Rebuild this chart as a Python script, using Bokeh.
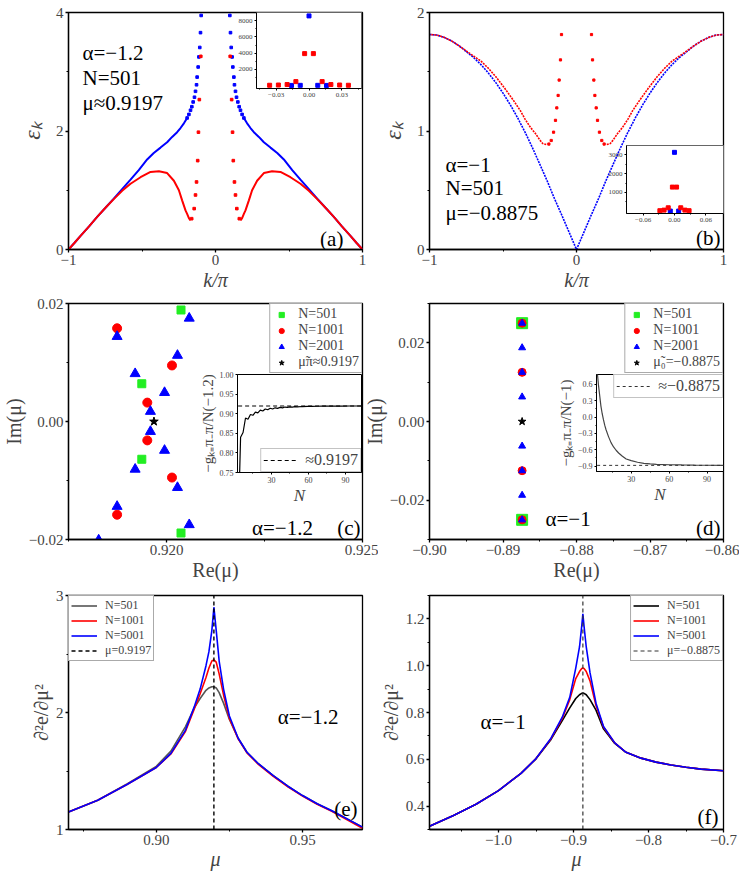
from bokeh.plotting import figure
from bokeh.models import GridBox, FixedTicker, CustomJSTickFormatter, Label, Range1d
from bokeh.core.properties import value
from bokeh.embed import file_html
from bokeh.resources import INLINE

SERIF = "Liberation Serif"

# ---------------- data ----------------
# (a) alpha=-1.2, N=501 ; k>0 half (spectrum is symmetric in k)
A_BLUE_DOT_K = [0.0975, 0.102, 0.107, 0.113, 0.118, 0.125, 0.129, 0.136, 0.143, 0.152, 0.161, 0.170, 0.181, 0.193]
A_BLUE_DOT_E = [3.95, 3.66, 3.41, 3.25, 3.08, 2.91, 2.78, 2.67, 2.57, 2.49, 2.41, 2.35, 2.28, 2.22]
A_BLUE_K = [0.193, 0.215, 0.238, 0.261, 0.295, 0.329, 0.374, 0.420, 0.465, 0.522, 0.578, 0.635, 0.692, 0.750, 0.805, 0.860, 0.918, 0.960, 1.0]
A_BLUE_E = [2.22, 2.13, 2.05, 1.98, 1.90, 1.81, 1.72, 1.63, 1.52, 1.34, 1.18, 1.02, 0.86, 0.70, 0.55, 0.39, 0.23, 0.11, 0.0]
A_RED_DOT_K = [0.100, 0.110, 0.116, 0.121, 0.129, 0.136, 0.145, 0.162]
A_RED_DOT_E = [3.26, 2.53, 1.98, 1.50, 1.14, 0.92, 0.69, 0.52]
A_RED_K = [0.170, 0.181, 0.193, 0.204, 0.227, 0.249, 0.283, 0.329, 0.385, 0.442, 0.510, 0.578, 0.635, 0.692, 0.750, 0.805, 0.860, 0.918, 0.960, 1.0]
A_RED_E = [0.49, 0.53, 0.60, 0.66, 0.83, 1.00, 1.16, 1.29, 1.32, 1.31, 1.22, 1.11, 0.99, 0.85, 0.70, 0.55, 0.39, 0.23, 0.11, 0.0]
# inset (a)
AI_BLUE_K = [0.0, -0.008, 0.008, -0.016, 0.016]
AI_BLUE_E = [8600, 20, 20, 10, 10]
AI_RED_K = [-0.004, 0.004, -0.012, 0.012, -0.020, 0.020, -0.028, 0.028, -0.036, 0.036]
AI_RED_E = [3940, 3940, 480, 480, 120, 120, 60, 60, 30, 30]

# (b) alpha=-1, N=501
B_BLUE_K = [0.0, 0.05, 0.10, 0.15, 0.20, 0.25, 0.30, 0.35, 0.40, 0.45, 0.50, 0.55, 0.60, 0.65, 0.70, 0.75, 0.80, 0.85, 0.90, 0.95, 1.0]
B_BLUE_E = [0.0, 0.145, 0.29, 0.43, 0.58, 0.72, 0.86, 0.99, 1.11, 1.22, 1.32, 1.41, 1.49, 1.56, 1.62, 1.67, 1.72, 1.76, 1.79, 1.81, 1.814]
B_RED_DOT_K = [0.102, 0.109, 0.118, 0.125, 0.134, 0.143, 0.156, 0.172, 0.188]
B_RED_DOT_E = [1.814, 1.60, 1.43, 1.30, 1.195, 1.09, 0.99, 0.92, 0.89]
B_RED_K = [0.206, 0.23, 0.25, 0.28, 0.313, 0.35, 0.381, 0.43, 0.494, 0.55, 0.60, 0.65, 0.721, 0.80, 0.85, 0.90, 0.95, 1.0]
B_RED_E = [0.886, 0.895, 0.925, 0.98, 1.03, 1.10, 1.17, 1.26, 1.37, 1.46, 1.53, 1.59, 1.65, 1.72, 1.76, 1.79, 1.81, 1.814]
# inset (b)
BI_BLUE_K = [0.0, -0.008, 0.008]
BI_BLUE_E = [3135, 10, 10]
BI_RED_K = [-0.004, 0.004, -0.012, 0.012, -0.020, 0.020, -0.028, 0.028]
BI_RED_E = [1285, 1285, 185, 185, 60, 60, 30, 30]

# (c) zeros of g, alpha=-1.2
C501_RE = [0.92037, 0.91937, 0.91937, 0.92037]
C501_IM = [0.0189, 0.0064, -0.0064, -0.0189]
C1001_RE = [0.91874, 0.92014, 0.91951, 0.91951, 0.92014, 0.91874]
C1001_IM = [0.0158, 0.0095, 0.0032, -0.0032, -0.0095, -0.0158]
C2001_RE = [0.91874, 0.92058, 0.92028, 0.91920, 0.91995, 0.91959, 0.91959, 0.91995, 0.91920, 0.92028, 0.92058, 0.91874, 0.91827]
C2001_IM = [0.0144, 0.0175, 0.0112, 0.0081, 0.0049, 0.0017, -0.0017, -0.0049, -0.0081, -0.0112, -0.0175, -0.0144, -0.0201]
C_STAR_RE = [0.91968]
C_STAR_IM = [0.0]
# inset (c)
CI_N = [3, 5, 7, 9, 11, 13, 15, 17, 19, 21, 23, 25, 27, 29, 31, 33, 35, 37, 39, 41, 43, 45, 47, 49, 51, 55, 59, 63, 67, 71, 75, 81, 87, 93, 99, 103]
CI_G = [0.60, 0.840, 0.852, 0.889, 0.886, 0.898, 0.896, 0.904, 0.902, 0.909, 0.907, 0.912, 0.910, 0.914, 0.912, 0.915,
        0.9135, 0.916, 0.915, 0.917, 0.916, 0.9175, 0.9168, 0.918, 0.9174, 0.9183, 0.9186, 0.9189, 0.919, 0.9192,
        0.9193, 0.9194, 0.9195, 0.9196, 0.9196, 0.9197]
CI_LIMIT = 0.9197

# (d) zeros of g, alpha=-1
D501_RE = [-0.8874, -0.8874]
D501_IM = [0.025, -0.025]
D1001_RE = [-0.8874, -0.8874, -0.8874, -0.8874]
D1001_IM = [0.025, 0.0125, -0.0125, -0.025]
D2001_RE = [-0.8874] * 8
D2001_IM = [0.025, 0.01875, 0.0125, 0.00625, -0.00625, -0.0125, -0.01875, -0.025]
D_STAR_RE = [-0.8874]
D_STAR_IM = [0.0]
# inset (d)
DI_N = [3, 4, 5, 6, 7, 8, 9, 10, 12, 14, 16, 18, 20, 23, 26, 30, 35, 40, 45, 50, 60, 70, 80, 90, 103]
DI_G = [0.85, 0.60, 0.40, 0.20, 0.06, -0.05, -0.15, -0.23, -0.36, -0.47, -0.55, -0.61, -0.66, -0.72, -0.77, -0.80,
        -0.83, -0.85, -0.86, -0.868, -0.876, -0.880, -0.883, -0.885, -0.886]
DI_LIMIT = -0.8875

# (e) second derivative, alpha=-1.2
E_MU = [0.870, 0.880, 0.890, 0.900, 0.905, 0.910, 0.913, 0.915, 0.917, 0.918, 0.919, 0.9197, 0.9205, 0.9215,
        0.923, 0.925, 0.928, 0.931, 0.935, 0.940, 0.945, 0.950, 0.955, 0.960, 0.9705]
E_5001 = [1.150, 1.250, 1.385, 1.530, 1.650, 1.850, 2.050, 2.200, 2.400, 2.520, 2.700, 2.900, 2.700, 2.440,
          2.200, 1.970, 1.780, 1.660, 1.560, 1.460, 1.370, 1.290, 1.220, 1.160, 1.020]
E_1001 = [1.150, 1.250, 1.385, 1.530, 1.645, 1.840, 2.030, 2.160, 2.300, 2.380, 2.440, 2.450, 2.430, 2.330,
          2.150, 1.950, 1.775, 1.655, 1.555, 1.455, 1.365, 1.285, 1.215, 1.155, 1.010]
E_501 = [1.150, 1.250, 1.390, 1.540, 1.670, 1.880, 2.040, 2.120, 2.190, 2.210, 2.220, 2.220, 2.210, 2.170,
         2.080, 1.940, 1.780, 1.660, 1.560, 1.460, 1.370, 1.290, 1.220, 1.160, 1.020]
E_MUC = 0.9197
E_YR = (1.0, 3.0)

# (f) second derivative, alpha=-1
F_MU = [-1.092, -1.06, -1.03, -1.00, -0.97, -0.95, -0.93, -0.915, -0.905, -0.897, -0.892, -0.889, -0.8875,
        -0.886, -0.883, -0.878, -0.870, -0.860, -0.845, -0.830, -0.810, -0.790, -0.770, -0.750, -0.730, -0.700]
F_5001 = [0.314, 0.360, 0.408, 0.466, 0.540, 0.603, 0.690, 0.780, 0.865, 0.990, 1.080, 1.170, 1.222,
          1.170, 1.080, 0.970, 0.840, 0.740, 0.670, 0.630, 0.605, 0.588, 0.576, 0.566, 0.558, 0.551]
F_1001 = [0.314, 0.360, 0.408, 0.466, 0.540, 0.603, 0.688, 0.775, 0.855, 0.945, 0.975, 0.988, 0.990,
          0.988, 0.975, 0.935, 0.830, 0.738, 0.670, 0.630, 0.605, 0.588, 0.576, 0.566, 0.558, 0.551]
F_501 = [0.314, 0.360, 0.408, 0.466, 0.540, 0.602, 0.685, 0.765, 0.820, 0.860, 0.876, 0.882, 0.883,
         0.882, 0.876, 0.855, 0.810, 0.730, 0.668, 0.630, 0.605, 0.588, 0.576, 0.566, 0.558, 0.551]
F_MUC = -0.8875
F_YR = (0.3, 1.3)

BLUE = "#0000ff"
RED = "#ff0000"
GREEN = "#22ee22"


def mirror(ks, es):
    return [-k for k in ks[::-1]] + list(ks), list(es[::-1]) + list(es)


def fmt(d):
    return CustomJSTickFormatter(args=dict(d=d), code="return tick.toFixed(d).replace('-', '\u2212');")


def set_font(obj, attr, fam):
    try:
        setattr(obj, attr, value(fam))
    except Exception:
        setattr(obj, attr, fam)


# every figure (main panels and insets) shares the same border sizes, so that the
# grid's frame alignment leaves them unchanged; frames are placed with margins.
BL, BT, BR, BB = 70, 9, 16, 46
ORIGIN = 0   # page offset of the layout's top-left corner


def make_fig(xr, yr, fw, fh, frame_left, frame_top, lw=1.3):
    p = figure(x_range=Range1d(*xr), y_range=Range1d(*yr), frame_width=fw, frame_height=fh,
               min_border_left=BL, min_border_top=BT, min_border_right=BR, min_border_bottom=BB,
               output_backend="svg", toolbar_location=None,
               margin=(frame_top - BT - ORIGIN, 0, 0, frame_left - BL - ORIGIN),
               border_fill_color=None, background_fill_color="white",
               outline_line_color="black", outline_line_width=lw)
    p.grid.visible = False
    return p


def axis(ax, ticks, minor, d, size="15px", label=None, lsize="20px", italic=False, tout=3, mout=2, standoff=2, lstand=1, lw=1.3):
    ax.ticker = FixedTicker(ticks=ticks, minor_ticks=minor)
    ax.formatter = fmt(d)
    set_font(ax, "major_label_text_font", SERIF)
    ax.major_label_text_font_size = size
    ax.major_tick_in = 0
    ax.major_tick_out = tout
    ax.minor_tick_in = 0
    ax.minor_tick_out = mout
    ax.major_label_standoff = standoff
    ax.axis_line_color = "black"
    ax.axis_line_width = lw
    ax.major_tick_line_width = lw
    ax.axis_label = label
    set_font(ax, "axis_label_text_font", SERIF)
    ax.axis_label_text_font_size = lsize
    ax.axis_label_text_font_style = "italic" if italic else "normal"
    ax.axis_label_standoff = lstand


def text(p, x, y, s, size="21px", align="left"):
    lab = Label(x=x, y=y, text=s, text_font_size=size, text_baseline="middle", text_align=align, text_color="black")
    set_font(lab, "text_font", SERIF)
    p.add_layout(lab)


FW = 294
X1, X2 = 68, 429          # frame left edges of the two columns
Y1, Y2, Y3 = 12, 303, 595  # frame top edges of the three rows

figs = []

# ---------------- (a) ----------------
pa = make_fig((-1, 1), (0, 4), FW, 237, X1, Y1)
axis(pa.xaxis[0], [-1, 0, 1], [-0.5, 0.5], 0, label="k/π", italic=True)
axis(pa.yaxis[0], [0, 2, 4], [1, 3], 0, label="εₖ", italic=True, lsize="24px", lstand=8)
pa.line(A_BLUE_K, A_BLUE_E, color=BLUE, line_width=2)
pa.line([-k for k in A_BLUE_K], A_BLUE_E, color=BLUE, line_width=2)
pa.line(A_RED_K, A_RED_E, color=RED, line_width=2)
pa.line([-k for k in A_RED_K], A_RED_E, color=RED, line_width=2)
x, y = mirror(A_BLUE_DOT_K, A_BLUE_DOT_E)
pa.scatter(x, y, marker="square", size=2.6, color=BLUE)
x, y = mirror(A_RED_DOT_K, A_RED_DOT_E)
pa.scatter(x, y, marker="square", size=2.6, color=RED)
text(pa, -0.905, 3.31, "α=−1.2")
text(pa, -0.905, 2.90, "N=501")
text(pa, -0.905, 2.48, "μ≈0.9197")
text(pa, 0.87, 0.17, "(a)", align="right")
figs.append(pa)

# ---------------- (b) ----------------
pb = make_fig((-1, 1), (0, 2), FW, 237, X2, Y1)
axis(pb.xaxis[0], [-1, 0, 1], [-0.5, 0.5], 0, label="k/π", italic=True)
axis(pb.yaxis[0], [0, 1, 2], [0.5, 1.5], 0, label="εₖ", italic=True, lsize="24px", lstand=8)
x, y = mirror(B_BLUE_K, B_BLUE_E)
pb.line(x, y, color=BLUE, line_width=1.6, line_dash="2 1")
pb.line(B_RED_K, B_RED_E, color=RED, line_width=1.6, line_dash="2 1")
pb.line([-k for k in B_RED_K], B_RED_E, color=RED, line_width=1.6, line_dash="2 1")
x, y = mirror(B_RED_DOT_K, B_RED_DOT_E)
pb.scatter(x, y, marker="square", size=2.2, color=RED)
text(pb, -0.891, 0.717, "α=−1")
text(pb, -0.891, 0.515, "N=501")
text(pb, -0.891, 0.304, "μ=−0.8875")
text(pb, 0.98, 0.093, "(b)", align="right")
figs.append(pb)

# ---------------- (c) ----------------
pc = make_fig((0.9175, 0.925), (-0.02, 0.02), FW, 236, X1, Y2)
axis(pc.xaxis[0], [0.920, 0.925], [0.9175, 0.9225], 3, label="Re(μ)")
axis(pc.yaxis[0], [-0.02, 0.0, 0.02], [-0.01, 0.01], 2, label="Im(μ)")
pc.scatter(C501_RE, C501_IM, marker="square", size=8, color=GREEN, legend_label="N=501")
pc.scatter(C1001_RE, C1001_IM, marker="circle", size=9, color=RED, legend_label="N=1001")
pc.scatter(C2001_RE, C2001_IM, marker="triangle", size=10, color=BLUE, legend_label="N=2001")
pc.scatter(C_STAR_RE, C_STAR_IM, marker="star", size=9, color="black", legend_label="μ̃π≈0.9197")
text(pc, 0.92218, -0.0180, "α=−1.2")
text(pc, 0.92495, -0.0180, "(c)", align="right")
figs.append(pc)

# ---------------- (d) ----------------
pd_ = make_fig((-0.90, -0.86), (-0.03, 0.03), FW, 236, X2, Y2)
axis(pd_.xaxis[0], [-0.90, -0.89, -0.88, -0.87, -0.86], [-0.895, -0.885, -0.875, -0.865], 2, label="Re(μ)")
axis(pd_.yaxis[0], [-0.02, 0.0, 0.02], [-0.03, -0.01, 0.01, 0.03], 2, label="Im(μ)")
pd_.scatter(D501_RE, D501_IM, marker="square", size=11, color=GREEN, legend_label="N=501")
pd_.scatter(D1001_RE, D1001_IM, marker="circle", size=8, color=RED, legend_label="N=1001")
pd_.scatter(D2001_RE, D2001_IM, marker="triangle", size=7, color=BLUE, legend_label="N=2001")
pd_.scatter(D_STAR_RE, D_STAR_IM, marker="star", size=8, color="black", legend_label="μ̃₀=−0.8875")
text(pd_, -0.88422, -0.0249, "α=−1")
text(pd_, -0.8604, -0.0270, "(d)", align="right")
figs.append(pd_)

# ---------------- (e) ----------------
pe = make_fig((0.87, 0.9705), E_YR, FW, 234, X1, Y3)
axis(pe.xaxis[0], [0.90, 0.95], [0.875, 0.925], 2, label="μ", italic=True, lstand=0)
axis(pe.yaxis[0], [1, 2, 3], [1.5, 2.5], 0, label="∂²e/∂μ²")
pe.line(E_MU, E_501, color="#555555", line_width=1.6, legend_label="N=501")
pe.line(E_MU, E_1001, color=RED, line_width=1.6, legend_label="N=1001")
pe.line(E_MU, E_5001, color=BLUE, line_width=1.6, legend_label="N=5001")
pe.line([E_MUC, E_MUC], list(E_YR), color="black", line_width=1.4, line_dash="4 3", legend_label="μ=0.9197")
text(pe, 0.9415, 1.958, "α=−1.2")
text(pe, 0.9688, 1.178, "(e)", align="right")
figs.append(pe)

# ---------------- (f) ----------------
pf = make_fig((-1.092, -0.70), F_YR, FW, 234, X2, Y3)
axis(pf.xaxis[0], [-1.0, -0.9, -0.8, -0.7], [-1.05, -0.95, -0.85, -0.75], 1, label="μ", italic=True, lstand=0)
axis(pf.yaxis[0], [0.4, 0.6, 0.8, 1.0, 1.2], [0.3, 0.5, 0.7, 0.9, 1.1, 1.3], 1, label="∂²e/∂μ²")
pf.line(F_MU, F_501, color="black", line_width=1.6, legend_label="N=501")
pf.line(F_MU, F_1001, color=RED, line_width=1.6, legend_label="N=1001")
pf.line(F_MU, F_5001, color=BLUE, line_width=1.6, legend_label="N=5001")
pf.line([F_MUC, F_MUC], list(F_YR), color="#333333", line_width=1.2, line_dash="4 3", legend_label="μ=−0.8875")
text(pf, -1.024, 0.758, "α=−1")
text(pf, -0.7067, 0.355, "(f)", align="right")
figs.append(pf)

for p, loc, fs in [(pc, "top_right", "14px"), (pd_, "top_right", "14px"), (pe, "top_left", "12px"), (pf, "top_right", "12px")]:
    lg = p.legend[0]
    lg.location = loc
    lg.margin = 0
    lg.padding = 2
    lg.spacing = 0
    lg.border_line_color = "#555555"
    lg.border_line_width = 1
    set_font(lg, "label_text_font", SERIF)
    lg.label_text_font_size = fs
    lg.label_height = 12
    lg.glyph_height = 13
    lg.glyph_width = 26 if p in (pe, pf) else 18
    lg.label_standoff = 8
    lg.background_fill_alpha = 1

# ---------------- insets ----------------
ia = make_fig((-0.048, 0.048), (-370, 9020), 105, 76, 256, 12, lw=1)
axis(ia.xaxis[0], [-0.03, 0.0, 0.03], [-0.045, -0.015, 0.015, 0.045], 2, size="7px", tout=2, mout=1, standoff=2, lw=1)
axis(ia.yaxis[0], [2000, 4000, 6000, 8000], [1000, 3000, 5000, 7000], 0, size="7px", tout=2, mout=1, standoff=2, lw=1)
ia.scatter(AI_BLUE_K, AI_BLUE_E, marker="square", size=4, color=BLUE)
ia.scatter(AI_RED_K, AI_RED_E, marker="square", size=4, color=RED)
ia.outline_line_color = "#666666"
figs.append(ia)

ib = make_fig((-0.092, 0.094), (-120, 3500), 97, 68, 626, 145, lw=1)
axis(ib.xaxis[0], [-0.06, 0.0, 0.06], [-0.03, 0.03], 2, size="7px", tout=2, mout=1, standoff=2, lw=1)
axis(ib.yaxis[0], [1000, 2000, 3000], [500, 1500, 2500], 0, size="7px", tout=2, mout=1, standoff=2, lw=1)
ib.scatter(BI_BLUE_K, BI_BLUE_E, marker="square", size=4, color=BLUE)
ib.scatter(BI_RED_K, BI_RED_E, marker="square", size=4, color=RED)
ib.outline_line_color = "#666666"
figs.append(ib)

ic = make_fig((2.5, 103), (0.75, 1.0), 124, 98, 237, 374, lw=1)
axis(ic.xaxis[0], [30, 60, 90], [15, 45, 75], 0, size="8px", label="N", lsize="17px", italic=True, tout=2, mout=1, standoff=2, lstand=0, lw=1)
axis(ic.yaxis[0], [0.75, 0.80, 0.85, 0.90, 0.95, 1.00], [], 2, size="8px", label="−gₖ₌π₋π/N(−1.2)", lsize="15px", tout=2, mout=1, standoff=2, lstand=1, lw=1)
ic.line(CI_N, CI_G, color="black", line_width=1.2)
ic.line([CI_N[0], CI_N[-1]], [CI_LIMIT, CI_LIMIT], color="black", line_width=1.2, line_dash="4 3", legend_label="≈0.9197")
figs.append(ic)

idd = make_fig((2.5, 103), (-1.0, 0.78), 127, 97, 596, 374, lw=1)
axis(idd.xaxis[0], [30, 60, 90], [15, 45, 75], 0, size="8px", label="N", lsize="17px", italic=True, tout=2, mout=1, standoff=2, lstand=0, lw=1)
axis(idd.yaxis[0], [-0.9, -0.6, -0.3, 0.0, 0.3, 0.6], [-0.75, -0.45, -0.15, 0.15, 0.45], 1, size="8px", label="−gₖ₌π₋π/N(−1)", lsize="15px", tout=2, mout=1, standoff=2, lstand=1, lw=1)
idd.line(DI_N, DI_G, color="#444444", line_width=1.2)
idd.line([DI_N[0], DI_N[-1]], [DI_LIMIT, DI_LIMIT], color="#333333", line_width=1.0, line_dash="3 3", legend_label="≈−0.8875")
figs.append(idd)

for p, loc in [(ic, "bottom_right"), (idd, "top_right")]:
    lg = p.legend[0]
    lg.location = loc
    lg.margin = 0
    lg.padding = 2
    lg.spacing = 0
    lg.border_line_color = "#888888"
    set_font(lg, "label_text_font", SERIF)
    lg.label_text_font_size = "16px"
    lg.label_height = 16
    lg.glyph_height = 16
    lg.glyph_width = 34
    lg.label_standoff = 8

grid = GridBox(children=[(p, 0, 0) for p in figs])
open("out.html", "w").write(file_html(grid, INLINE))
